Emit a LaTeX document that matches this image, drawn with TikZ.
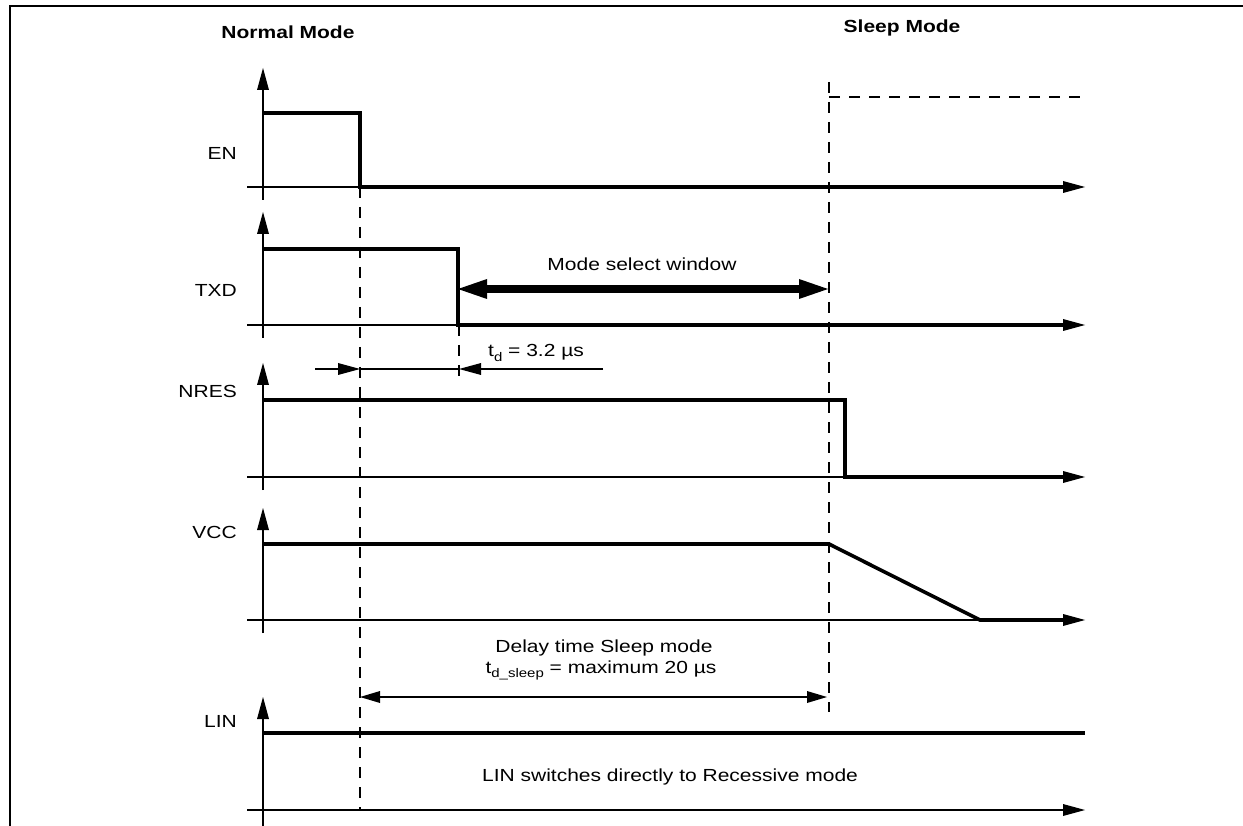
\documentclass[tikz,border=0pt]{standalone}
\usepackage{fontspec}
\setmainfont[FakeStretch=1.2]{Liberation Sans}
\usetikzlibrary{arrows.meta}
\newcommand{\lowsub}[1]{\raisebox{-0.45ex}{\fontsize{12.5}{13}\selectfont #1}}
\begin{document}
\begin{tikzpicture}[x=1pt,y=-1pt,
  txt/.style={font=\fontsize{17.5}{20}\selectfont, inner sep=0pt, anchor=base},
  lbl/.style={font=\fontsize{17.5}{20}\selectfont, inner sep=0pt, anchor=base east},
  ttl/.style={font=\bfseries\fontsize{17.5}{20}\selectfont, inner sep=0pt, anchor=base},
  axis/.style={line width=1.4pt},
  sig/.style={line width=3.6pt, line join=miter},
  tip/.style={-{Triangle[length=22pt,width=12pt,line width=0pt]}},
  dtip/.style={{Triangle[length=20pt,width=12pt,line width=0pt]}-{Triangle[length=20pt,width=12pt,line width=0pt]}},
  guide/.style={line width=1.4pt, dash pattern=on 11pt off 9pt},
  border/.style={line width=2.8pt}]
\useasboundingbox (0,0) rectangle (1243,826);

% frame (left and top)
\coordinate (fbl) at (10,826);
\coordinate (ftl) at (10,6);
\coordinate (ftr) at (1243,6);
\draw[border] (fbl) -- (ftl) -- (ftr);

% titles
\node[ttl] (normal) at (288,39) {Normal Mode};
\node[ttl] (sleep) at (902,33) {Sleep Mode};

% guide lines
\coordinate (g1t) at (360,187);
\coordinate (g1b) at (360,810);
\coordinate (g2t) at (829,82);
\coordinate (g2b) at (829,712);
\coordinate (s1) at (829,97);
\coordinate (s2) at (1087,97);
\draw[guide] (g1t) -- (g1b);
\draw[guide] (g2t) -- (g2b);
\draw[guide] (s1) -- (s2);

% ---------- EN ----------
\node[lbl] (en) at (237,160) {EN};
\coordinate (enA0) at (263,200); \coordinate (enA1) at (263,68);
\coordinate (enB0) at (247,187); \coordinate (enB1) at (1085,187);
\draw[axis,tip] (enA0) -- (enA1);
\draw[axis,tip] (enB0) -- (enB1);
\coordinate (en1) at (263,113); \coordinate (en2) at (360,113);
\coordinate (en3) at (360,187); \coordinate (en4) at (1064,187);
\draw[sig] (en1) -- (en2) -- (en3) -- (en4);

% ---------- TXD ----------
\node[lbl] (txd) at (237,297) {TXD};
\coordinate (txA0) at (263,338); \coordinate (txA1) at (263,212);
\coordinate (txB0) at (247,325); \coordinate (txB1) at (1085,325);
\draw[axis,tip] (txA0) -- (txA1);
\draw[axis,tip] (txB0) -- (txB1);
\coordinate (tx1) at (263,249); \coordinate (tx2) at (458,249);
\coordinate (tx3) at (458,325); \coordinate (tx4) at (1064,325);
\draw[sig] (tx1) -- (tx2) -- (tx3) -- (tx4);
\coordinate (msL) at (458,289); \coordinate (msR) at (828,289);
\draw[line width=8pt, {Triangle[length=29pt,width=20pt,line width=0pt]}-{Triangle[length=29pt,width=20pt,line width=0pt]}] (msL) -- (msR);
\node[txt] (msw) at (642,271) {Mode select window};

% t_d dimension
\coordinate (td0) at (315,369); \coordinate (td1) at (360,369);
\coordinate (td2) at (459,369); \coordinate (td3) at (603,369);
\draw[axis,tip] (td0) -- (td1);
\draw[axis] (td1) -- (td2);
\draw[axis,tip] (td3) -- (td2);
\coordinate (g3t) at (459,325); \coordinate (g3b) at (459,380);
\draw[guide] (g3t) -- (g3b);
\node[txt,anchor=base west] (tdl) at (488,357) {t\lowsub{d} = 3.2 µs};

% ---------- NRES ----------
\node[lbl] (nres) at (237,398) {NRES};
\coordinate (nrA0) at (263,490); \coordinate (nrA1) at (263,363);
\coordinate (nrB0) at (247,477); \coordinate (nrB1) at (1085,477);
\draw[axis,tip] (nrA0) -- (nrA1);
\draw[axis,tip] (nrB0) -- (nrB1);
\coordinate (nr1) at (263,400); \coordinate (nr2) at (845,400);
\coordinate (nr3) at (845,477); \coordinate (nr4) at (1064,477);
\draw[sig] (nr1) -- (nr2) -- (nr3) -- (nr4);

% ---------- VCC ----------
\node[lbl] (vcc) at (237,538) {VCC};
\coordinate (vcA0) at (263,633); \coordinate (vcA1) at (263,508);
\coordinate (vcB0) at (247,620); \coordinate (vcB1) at (1085,620);
\draw[axis,tip] (vcA0) -- (vcA1);
\draw[axis,tip] (vcB0) -- (vcB1);
\coordinate (vc1) at (263,544); \coordinate (vc2) at (829,544);
\coordinate (vc3) at (980,620); \coordinate (vc4) at (1064,620);
\draw[sig] (vc1) -- (vc2) -- (vc3) -- (vc4);

% delay time
\node[txt] (dl1) at (604,652) {Delay time Sleep mode};
\node[txt] (dl2) at (601,673) {t\lowsub{d\_sleep} = maximum 20 µs};
\coordinate (dlL) at (360,697); \coordinate (dlR) at (827,697);
\draw[axis,dtip] (dlL) -- (dlR);

% ---------- LIN ----------
\node[lbl] (lin) at (237,727) {LIN};
\coordinate (lnA0) at (263,826); \coordinate (lnA1) at (263,697);
\coordinate (lnB0) at (247,810); \coordinate (lnB1) at (1085,810);
\draw[axis,tip] (lnA0) -- (lnA1);
\draw[axis,tip] (lnB0) -- (lnB1);
\coordinate (ln1) at (263,733); \coordinate (ln2) at (1085,733);
\draw[sig] (ln1) -- (ln2);
\node[txt] (linsw) at (670,781) {LIN switches directly to Recessive mode};
\end{tikzpicture}
\end{document}
